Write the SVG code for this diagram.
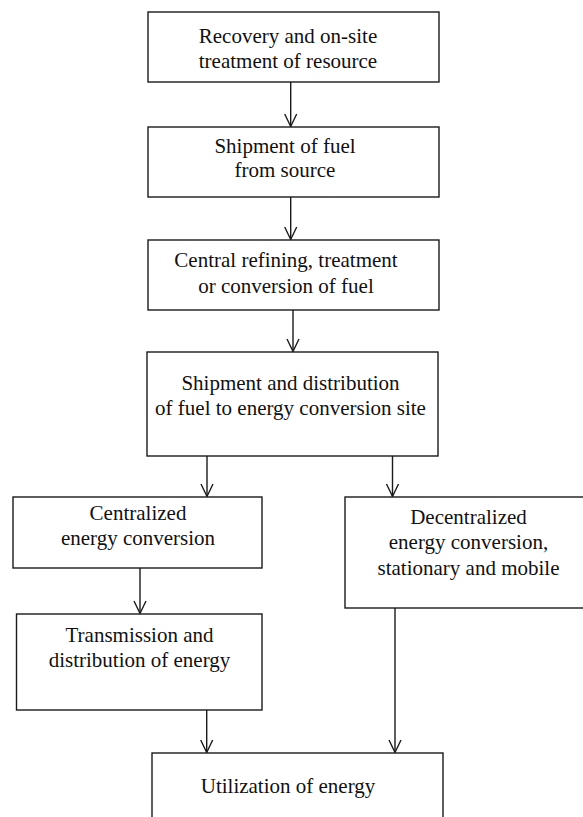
<svg xmlns="http://www.w3.org/2000/svg" width="583" height="817" viewBox="0 0 583 817">
<style>
.box{fill:#fff;stroke:#1a1a1a;stroke-width:1.4}
.t{font-family:"Liberation Serif","Times New Roman",serif;font-size:21px;fill:#111;text-anchor:middle}
.c{fill:none;stroke:#1a1a1a;stroke-width:1.4}
</style>
<defs>
<marker id="v" markerUnits="userSpaceOnUse" markerWidth="14" markerHeight="14" refX="0" refY="0" orient="auto" overflow="visible">
<path d="M-12.5,-6 L0,0 L-12.5,6" fill="none" stroke="#1a1a1a" stroke-width="1.4"/>
</marker>
</defs>
<rect width="583" height="817" fill="#fff"/>
<g id="connectors">
<line class="c" x1="290.7" y1="82" x2="290.7" y2="126.5" marker-end="url(#v)"/>
<line class="c" x1="290.7" y1="197" x2="290.7" y2="239.5" marker-end="url(#v)"/>
<line class="c" x1="293" y1="310" x2="293" y2="351.5" marker-end="url(#v)"/>
<line class="c" x1="207" y1="456" x2="207" y2="496.5" marker-end="url(#v)"/>
<line class="c" x1="392.5" y1="456" x2="392.5" y2="496.5" marker-end="url(#v)"/>
<line class="c" x1="140" y1="568" x2="140" y2="613.5" marker-end="url(#v)"/>
<line class="c" x1="206.7" y1="710" x2="206.7" y2="752.5" marker-end="url(#v)"/>
<line class="c" x1="395" y1="608" x2="395" y2="752.5" marker-end="url(#v)"/>
</g>
<g id="n1"><rect class="box" x="148" y="12" width="291" height="70"/>
<text class="t" x="288" y="43">Recovery and on-site</text><text class="t" x="288" y="68">treatment of resource</text></g>
<g id="n2"><rect class="box" x="148" y="127" width="291" height="70"/>
<text class="t" x="285" y="153">Shipment of fuel</text><text class="t" x="285" y="177">from source</text></g>
<g id="n3"><rect class="box" x="148" y="240" width="291" height="70"/>
<text class="t" x="286" y="267">Central refining, treatment</text><text class="t" x="286" y="293">or conversion of fuel</text></g>
<g id="n4"><rect class="box" x="147" y="352" width="291" height="104"/>
<text class="t" x="290.5" y="390">Shipment and distribution</text><text class="t" x="290.5" y="415">of fuel to energy conversion site</text></g>
<g id="n5"><rect class="box" x="13" y="497" width="249" height="71"/>
<text class="t" x="138" y="520">Centralized</text><text class="t" x="138" y="545">energy conversion</text></g>
<g id="n6"><rect class="box" x="345" y="497" width="250" height="111"/>
<text class="t" x="468.5" y="524">Decentralized</text><text class="t" x="468.5" y="549">energy conversion,</text><text class="t" x="468.5" y="575">stationary and mobile</text></g>
<g id="n7"><rect class="box" x="16.5" y="614" width="245.5" height="96"/>
<text class="t" x="139.5" y="642">Transmission and</text><text class="t" x="139.5" y="667">distribution of energy</text></g>
<g id="n8"><rect class="box" x="152" y="753" width="291" height="80"/>
<text class="t" x="288" y="793">Utilization of energy</text></g>
</svg>
